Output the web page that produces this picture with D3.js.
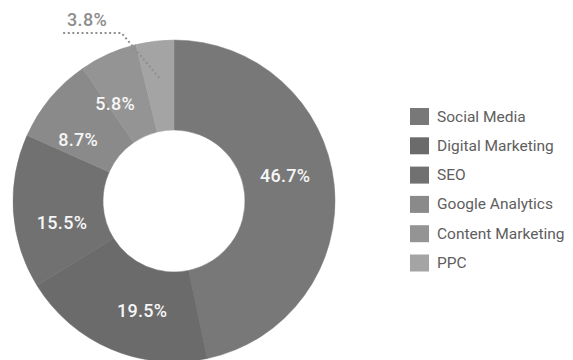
<!DOCTYPE html>
<html><head><meta charset="utf-8">
<script src="https://cdn.jsdelivr.net/npm/d3@7"></script>
<style>html,body{margin:0;padding:0;background:#fff;}svg{display:block;}</style>
</head><body>
<svg id="chart" width="573" height="360"></svg>
<script>
const categories = ["Social Media","Digital Marketing","SEO","Google Analytics","Content Marketing","PPC"];
const values = [46.7, 19.5, 15.5, 8.7, 5.8, 3.8];
const labels = ["46.7%","19.5%","15.5%","8.7%","5.8%","3.8%"];
const colors = ["#787878","#6b6b6b","#717171","#8a8a8a","#949494","#a4a4a4"];

const svg = d3.select("#chart");
const cx = 174, cy = 201, R = 161, r0 = 71;
const g = svg.append("g").attr("transform", `translate(${cx},${cy})`);

const pie = d3.pie().value(d => d).sort(null);
const arcs = pie(values);
const arc = d3.arc().innerRadius(r0).outerRadius(R);
const labelOffset = -7 * Math.PI / 180;

g.selectAll("path.slice").data(arcs).enter().append("path")
  .attr("class","slice")
  .attr("d", arc)
  .attr("fill", (d,i) => colors[i])
  .attr("stroke", (d,i) => colors[i]).attr("stroke-width", 0.5);

const inside = arcs.filter(d => d.value >= 5);
g.selectAll("text.lbl").data(inside).enter().append("text")
  .attr("class","lbl")
  .attr("x", d => { const a = (d.startAngle + d.endAngle)/2 + labelOffset; return Math.sin(a) * 114; })
  .attr("y", d => { const a = (d.startAngle + d.endAngle)/2 + labelOffset; return -Math.cos(a) * 114; })
  .attr("text-anchor","middle").attr("dominant-baseline","central")
  .attr("fill","#f6f6f6").attr("font-family","Roboto, sans-serif").attr("font-size",18)
  .attr("font-weight",500).attr("letter-spacing", 0.3)
  .text(d => labels[d.index]);

// small slice: outside label with dotted leader
arcs.filter(d => d.value < 5).forEach(d => {
  const a = (d.startAngle + d.endAngle)/2;
  const sx = Math.sin(a) * 124, sy = -Math.cos(a) * 124;
  const ey = -(R + 7);
  const ex = sx - 0.84 * (sy - ey);
  const hx = ex - 59;
  g.append("polyline")
    .attr("points", `${sx},${sy} ${ex},${ey} ${hx},${ey}`)
    .attr("fill","none").attr("stroke","#8f8f8f").attr("stroke-width",2)
    .attr("stroke-dasharray","2,2.6");
  g.append("text")
    .attr("x", (ex + hx)/2 - 5).attr("y", ey - 14)
    .attr("text-anchor","middle").attr("dominant-baseline","central")
    .attr("fill","#8c8c8c").attr("font-family","Roboto, sans-serif").attr("font-size",18)
    .attr("font-weight",500).attr("letter-spacing", 0.3)
    .text(labels[d.index]);
});

// legend
const legend = svg.append("g").attr("transform","translate(410,108)");
const rowH = 29.3;
const items = legend.selectAll("g.item").data(categories).enter().append("g")
  .attr("class","item").attr("transform",(d,i)=>`translate(0,${i*rowH})`);
items.append("rect").attr("x",0).attr("y",0).attr("width",19).attr("height",17)
  .attr("fill",(d,i)=>colors[i]);
items.append("text").attr("x",27).attr("y",8.5)
  .attr("dominant-baseline","central")
  .attr("fill","#5e5e5e").attr("font-family","Roboto, sans-serif").attr("font-size",15.5)
  .text(d=>d);
</script>
</body></html>
